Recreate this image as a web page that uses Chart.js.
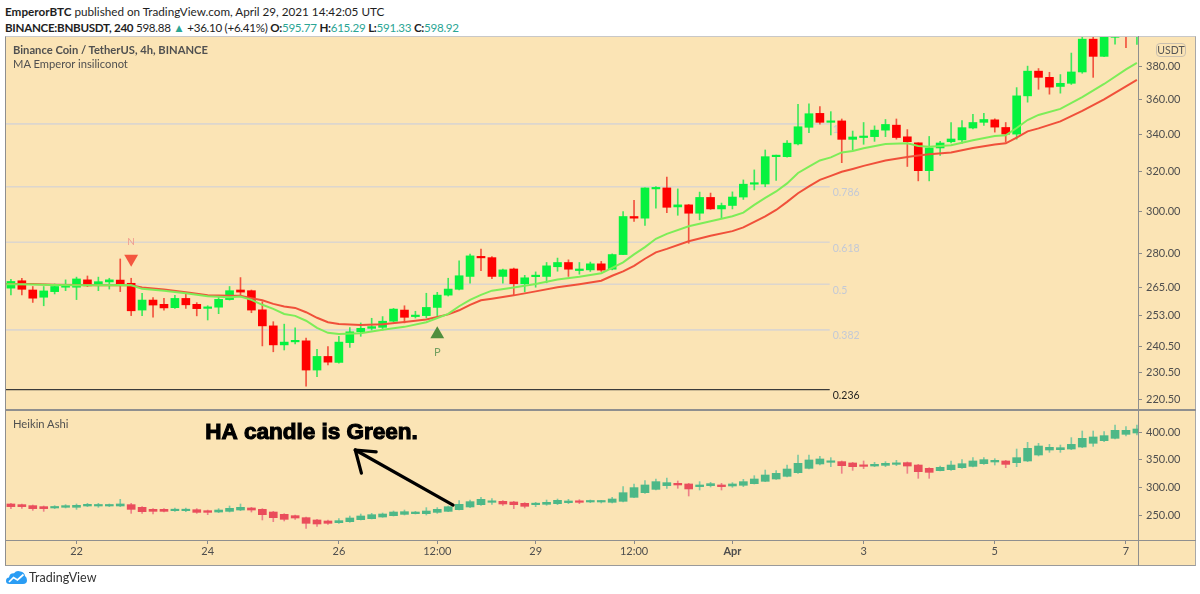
<!DOCTYPE html>
<html>
<head>
<meta charset="utf-8">
<script src="https://cdn.jsdelivr.net/npm/chart.js@4.4.1/dist/chart.umd.min.js"></script>
<style>
html,body{margin:0;padding:0;background:#fff;width:1200px;height:594px;overflow:hidden;font-family:Lato,'Liberation Sans',sans-serif;}
.abs{position:absolute;white-space:nowrap;}
#h1{left:5px;top:4px;font-size:11.7px;line-height:15px;color:#1e1e1e;}
#h2{left:5px;top:20px;font-size:11.6px;line-height:15px;letter-spacing:-0.28px;color:#1e1e1e;}
.t{color:#2aa594;}
#panel{left:5px;top:36px;width:1191px;height:530px;box-sizing:border-box;background:#FBE4B5;border-left:1px solid #8f8f8f;border-right:1px solid #a8a8a8;border-top:1px solid #c8c8c8;border-bottom:1px solid #9a9a9a;}
canvas{position:absolute;}
#cA{left:5px;top:36px;}
#cB{left:5px;top:409px;}
.lbl{font-size:11.2px;line-height:14px;color:#505050;}
#usdt{left:1156px;top:43px;width:30px;height:14px;box-sizing:border-box;border:1px solid #c9bfae;border-radius:4px;font-size:10.5px;line-height:12px;text-align:center;color:#555;}
.ln{background:#8f8f8f;}
#logo{left:6px;top:570px;display:flex;align-items:center;}
#logo span{font-size:12.5px;color:#333;margin-left:2px;}
</style>
</head>
<body>
<div id="h1" class="abs"><b>EmperorBTC</b> published on TradingView.com, April 29, 2021 14:42:05 UTC</div>
<div id="h2" class="abs"><b>BINANCE:BNBUSDT, 240</b> 598.88 <span class="t">▲</span> +36.10 (+6.41%) <b>O:</b><span class="t">595.77</span> <b>H:</b><span class="t">615.29</span> <b>L:</b><span class="t">591.33</span> <b>C:</b><span class="t">598.92</span></div>
<div id="panel" class="abs"></div>
<canvas id="cA" width="1190" height="373"></canvas>
<canvas id="cB" width="1190" height="157"></canvas>
<div class="abs ln" style="left:5px;top:409px;width:1191px;height:2px;"></div>
<div class="abs ln" style="left:5px;top:540px;width:1191px;height:1px;"></div>
<div class="abs ln" style="left:1138px;top:36px;width:1px;height:530px;"></div>
<div class="abs lbl" style="left:13px;top:43px;font-weight:bold;">Binance Coin / TetherUS, 4h, BINANCE</div>
<div class="abs lbl" style="left:13px;top:57px;">MA Emperor insiliconot</div>
<div class="abs lbl" style="left:13px;top:417px;">Heikin Ashi</div>
<div id="usdt" class="abs">USDT</div>
<div id="logo" class="abs">
<svg width="21" height="15" viewBox="0 0 21 15"><path d="M3.5 14 Q0 14 0 11 Q0 8 3 7.6 Q3.5 3 8 3.2 Q10.5 0 14.5 1.5 Q18.5 2 19 6 Q21 7.5 21 10.2 Q21 14 17 14 Z" fill="#2a9df4"/><polyline points="3,12 7.5,7.5 11.5,10 17.5,4.5" fill="none" stroke="#fff" stroke-width="1.7"/></svg>
<span>TradingView</span></div>

<script>
// ---------- DATA ----------
// main candles (Binance Coin / TetherUS, 4h), index 0 = 21 Mar 00:00
const mOpen = [264.6,267.8,263.8,260.7,263.1,265.0,265.0,268.2,265.7,267.3,
  268.1,266.7,255.3,259.5,257.7,256.3,260.2,257.7,256.0,256.5,
  259.7,263.8,263.5,255.4,248.8,241.2,242.4,242.8,231.5,236.7,
  234.4,242.1,246.4,247.8,248.2,250.7,255.3,252.6,253.0,256.4,
  261.6,264.1,269.7,278.6,278.1,269.7,273.0,266.5,269.6,269.7,
  274.0,275.9,272.3,272.6,275.3,272.9,279.5,297.4,296.6,311.1,
  311.6,302.1,303.1,299.0,306.8,301.1,302.8,307.0,313.5,313.6,
  327.9,327.9,334.8,344.0,351.9,346.8,347.6,337.3,338.3,338.8,
  342.4,345.2,338.7,335.4,320.5,332.6,336.0,337.0,343.6,346.8,
  348.2,343.9,340.2,362.1,377.0,373.2,367.7,369.6,376.5,397.2,
  386.2,398.4,406.0,401.0];
const mHigh = [268.4,268.9,265.3,265.3,266.4,268.2,269.4,269.9,269.4,268.9,
  277.5,268.9,262.4,260.6,260.2,261.5,262.0,258.4,257.1,261.0,
  265.3,269.2,263.8,258.8,250.5,249.5,248.0,243.9,239.5,240.5,
  244.6,248.1,250.0,251.9,252.6,256.0,257.1,254.8,262.4,262.8,
  268.9,276.6,279.7,282.0,278.6,273.0,273.4,270.2,271.7,275.9,
  277.9,277.1,275.9,276.1,276.4,279.8,299.8,305.3,311.7,312.3,
  317.1,311.1,303.3,309.5,309.0,304.0,309.6,315.7,320.9,331.5,
  328.8,336.6,357.2,357.4,355.8,352.9,348.7,341.9,346.7,344.8,
  348.4,348.7,342.7,335.4,338.9,336.2,346.7,347.8,351.3,351.9,
  348.8,346.7,367.0,380.1,378.6,376.3,374.9,388.3,399.5,400.5,
  401.0,402.0,410.0,412.0];
const mLow = [261.7,261.7,258.5,257.1,262.1,263.5,259.7,265.3,263.5,264.2,
  263.1,253.0,253.0,252.4,255.3,256.0,256.0,252.9,251.2,253.8,
  259.5,261.0,254.2,240.8,238.5,239.2,241.6,225.5,229.0,233.4,
  234.1,240.2,244.6,247.1,247.1,250.4,250.0,252.0,252.0,253.0,
  261.2,263.8,266.8,272.3,268.7,266.8,261.4,263.0,265.0,266.9,
  272.0,269.7,270.7,271.9,271.9,272.6,279.4,295.0,293.1,301.5,
  299.3,298.0,284.7,295.8,300.9,296.4,301.1,305.8,310.6,312.2,
  315.4,327.6,334.2,341.0,345.7,339.7,324.7,331.5,334.6,336.2,
  338.8,337.4,322.7,315.2,315.2,328.6,335.4,335.0,343.1,345.0,
  341.3,335.9,337.4,358.4,366.0,363.1,363.7,368.9,375.7,373.2,
  386.0,394.0,391.7,393.8];
const mClose = [267.5,264.1,260.3,263.4,265.3,265.4,268.6,265.6,267.4,268.2,
  266.0,255.0,259.5,257.4,256.2,260.2,257.5,255.9,256.6,259.8,
  263.5,262.9,255.3,248.8,241.2,242.3,242.9,231.5,236.7,234.5,
  242.3,246.4,247.8,248.5,250.7,255.7,252.3,253.2,256.4,261.6,
  264.2,270.0,278.9,278.0,269.7,272.6,266.5,269.1,270.0,274.4,
  275.9,272.9,273.0,275.3,272.5,279.5,297.4,296.6,311.6,311.6,
  301.9,303.1,299.0,306.8,301.1,302.8,307.0,313.5,314.1,327.9,
  328.3,335.2,344.3,351.7,346.8,347.6,337.3,338.6,338.9,342.4,
  345.6,338.3,336.0,320.5,332.6,335.3,337.5,343.8,346.7,348.4,
  344.1,340.2,362.1,377.0,373.2,367.3,369.6,376.5,397.2,386.2,
  398.5,399.0,401.0,405.0];

// Heikin Ashi pane
const haOpen = [270.1,268.9,267.1,265.3,262.9,264.1,264.1,266.5,266.5,266.5,
  266.5,268.9,264.1,260.4,260.4,258.0,258.0,259.8,258.0,255.6,
  256.8,259.2,262.9,260.4,255.6,251.4,249.0,245.4,241.2,239.4,
  236.4,238.2,241.8,243.6,246.6,249.0,251.4,252.6,252.6,255.0,
  256.8,259.8,264.7,268.9,273.1,274.9,273.7,271.3,268.9,269.5,
  270.7,272.5,275.5,273.7,273.7,273.1,274.9,282.1,290.5,296.5,
  303.2,307.4,306.2,301.4,303.2,304.4,302.6,303.8,306.7,311.0,
  315.2,320.0,326.6,334.4,342.3,345.3,346.5,344.1,339.8,338.6,
  339.8,341.6,344.7,340.4,334.4,330.2,332.0,335.6,338.0,342.8,
  345.9,347.7,344.7,347.7,358.5,367.5,368.1,369.3,372.9,379.6,
  384.4,388.6,395.8,398.2];
const haHigh = [271.3,270.1,268.3,266.5,267.1,268.9,270.1,271.3,271.3,270.1,
  278.5,271.3,265.3,261.7,261.7,262.9,262.9,261.7,259.2,261.7,
  266.5,270.1,264.1,261.7,256.8,252.6,250.2,246.6,242.4,241.2,
  243.6,248.4,252.0,253.2,253.8,257.4,259.2,256.8,263.5,263.5,
  266.5,276.1,277.3,282.1,279.7,276.1,274.9,272.5,273.1,277.3,
  279.1,278.5,277.9,277.3,276.7,282.1,301.4,306.2,312.2,315.2,
  317.0,311.6,307.4,310.4,309.2,307.4,308.6,314.6,321.2,331.4,
  330.2,340.4,358.5,358.5,356.1,353.7,347.7,345.3,347.7,345.3,
  346.5,348.9,345.9,341.6,335.6,338.6,347.7,350.1,353.7,353.7,
  351.9,348.9,369.3,381.4,379.6,377.7,376.5,389.8,401.8,401.8,
  400.6,412.6,409.6,412.6];
const haLow = [261.7,262.3,258.6,256.8,261.7,262.9,260.4,265.3,264.1,265.3,
  265.3,253.2,253.2,252.0,255.6,256.8,256.2,253.2,250.8,254.4,
  255.6,258.0,255.6,241.2,238.2,239.4,242.4,226.2,229.8,233.4,
  235.2,237.0,241.2,243.0,246.0,248.4,250.2,252.0,250.2,253.2,
  256.2,259.2,263.5,267.7,269.5,267.7,261.7,262.9,265.3,267.7,
  268.9,270.7,270.7,272.5,271.9,271.9,273.7,281.5,289.3,295.3,
  298.4,298.4,284.5,295.3,300.8,295.3,300.2,301.4,306.1,310.4,
  314.6,318.8,325.4,333.2,340.4,337.4,325.4,330.8,333.8,337.4,
  337.4,339.2,325.4,316.4,316.4,329.6,330.8,334.4,336.8,341.6,
  340.4,335.6,337.4,346.5,356.7,363.3,363.3,368.1,371.7,374.1,
  382.6,387.4,392.8,394.6];
const haClose = [265.3,265.3,261.7,261.7,265.3,267.1,267.7,269.5,268.9,268.9,
  270.1,260.4,256.2,256.8,256.8,260.4,260.4,255.0,255.0,259.2,
  262.3,264.1,259.2,250.8,245.4,242.4,244.8,235.2,234.0,235.2,
  240.0,244.8,248.4,250.8,252.0,255.6,256.2,255.6,257.4,260.4,
  265.2,269.5,274.3,278.5,274.9,270.1,268.9,265.9,270.7,273.1,
  276.7,275.5,273.1,276.1,275.5,279.1,290.5,299.6,304.4,310.4,
  308.6,304.4,297.2,304.4,306.8,301.4,306.2,310.4,315.2,322.4,
  325.4,333.2,343.5,349.5,351.3,347.7,339.2,337.4,338.0,341.7,
  343.5,344.1,338.6,328.4,327.2,336.2,340.4,342.8,347.7,350.1,
  348.9,341.6,353.7,370.5,374.7,372.3,371.7,377.7,388.6,391.0,
  393.4,403.0,403.0,405.4];

// MA Emperor lines (read at these candle positions)
const maIdx = [-0.45,0,2,4,6,8,10,11,12,14,16,18,20,21,22,23,24,25,26,27,28,29,30,32,34,36,38,40,41,42,43,44,46,48,50,52,54,55,56,57,58,59,60,62,64,66,67,68,69,70,71,72,73,74,75,76,77,78,80,82,83,84,86,88,90,91,92,93,94,96,98,100,102,103];
const maGreen = [266.3,266.3,266.2,266.0,265.9,265.8,266.0,265.8,264.3,263.5,
  262.4,261.1,260.7,261.0,259.6,257.5,255.8,253.7,252.9,250.9,
  248.0,246.0,245.5,245.8,247.2,248.4,250.3,253.7,256.9,259.6,
  261.7,263.5,264.9,266.4,268.4,269.6,271.1,273.5,276.0,279.6,
  282.9,286.8,289.1,292.7,295.1,297.5,299.3,303.1,306.6,309.8,
  313.9,319.3,322.6,325.9,327.5,330.2,331.0,332.4,334.8,335.2,
  333.7,333.3,334.1,336.8,339.1,339.5,343.6,348.1,351.0,354.5,
  361.4,369.2,378.1,382.1];
const maRed = [266.4,266.4,266.4,266.1,266.0,265.9,266.0,265.9,264.9,264.0,
  262.8,261.6,261.3,261.3,260.3,259.4,257.9,256.8,256.2,254.4,
  252.1,250.3,249.6,249.2,249.5,250.4,251.4,253.5,255.2,257.5,
  259.4,260.1,261.5,263.2,265.0,266.3,267.8,270.0,271.9,274.4,
  277.6,280.5,282.1,285.6,288.2,290.4,292.2,294.8,297.5,300.6,
  304.6,308.9,312.4,315.7,317.8,319.9,321.4,323.0,325.9,327.7,
  328.5,329.2,330.1,332.6,334.5,335.1,338.3,341.7,343.4,347.3,
  353.3,360.0,367.8,371.6];

// Fibonacci levels
const fibLevels = ['1','0.786','0.618','0.5','0.382','0.236'];
const fibPrices = [345.9,312.2,285.2,266.3,247.2,224.2];
const fibEnd = 74.9;

// signal markers
const sigLabels = ['N','P'];
const sigIdx = [11,39];
const sigPrice = [277.6,245.4];
const sigTextPrice = [285.3,238.2];

// axes
const priceTicks = [220.5,230.5,240.5,253,265,280,300,320,340,360,380];
const haTicks = [250,300,350,400];
const timeTickIdx = [6,18,30,39,48,57,66,78,90,102];
const timeTickLabels = ['22','24','26','12:00','29','12:00','Apr','3','5','7'];

// annotation on Heikin Ashi pane
const annText = 'HA candle is Green.';
const annTextPos = [27.5,398.2];
const arrowTail = [40.45,268.2];
const arrowTip = [31.5,367.5];

// ---------- CHARTS ----------
[mHigh,mLow,mClose,haOpen,haHigh,haLow,haClose].forEach(a=>{ if(a.length!==mOpen.length) throw new Error('length mismatch '+a.length); });
if (maGreen.length!==maIdx.length || maRed.length!==maIdx.length) throw new Error('ma length mismatch');

Chart.defaults.font.family = "Lato, 'Liberation Sans', sans-serif";
const X_MIN = -0.45, X_MAX = 103.1;
const idx = mOpen.map((_, k) => k);

function candleSets(O, H, L, C, upBody, dnBody, upWick, dnWick) {
  const up = C.map((c, k) => c >= O[k]);
  return [
    { type:'bar', data: idx.map(k => ({x:k, y:[L[k], H[k]]})), backgroundColor: up.map(u => u ? upWick : dnWick),
      barThickness:1, maxBarThickness:1, grouped:false, minBarLength:1, borderWidth:0, order:5 },
    { type:'bar', data: idx.map(k => ({x:k, y:[O[k], C[k]]})), backgroundColor: up.map(u => u ? upBody : dnBody),
      barThickness:8, maxBarThickness:8, grouped:false, minBarLength:1.5, borderWidth:0, order:4 }
  ];
}

function zeroPad(s) { s.paddingTop = 0; s.paddingBottom = 0; s.paddingLeft = 0; s.paddingRight = 0; }

const overlayA = {
  id:'overlayA',
  beforeDatasetsDraw(chart) {
    const {ctx, scales:{x, y}} = chart;
    ctx.save();
    ctx.font = "10.5px Lato, 'Liberation Sans', sans-serif";
    ctx.textBaseline = 'middle';
    ctx.textAlign = 'left';
    fibPrices.forEach((p, k) => {
      const py = y.getPixelForValue(p);
      const px = x.getPixelForValue(fibEnd) + 3;
      ctx.fillStyle = fibLevels[k] === '0.236' ? '#1e1e1e' : '#c3c9d6';
      ctx.fillText(fibLevels[k], px, py + 6);
    });
    ctx.restore();
  },
  afterDatasetsDraw(chart) {
    const {ctx, scales:{x, y}} = chart;
    ctx.save();
    ctx.textAlign = 'center';
    ctx.textBaseline = 'middle';
    sigLabels.forEach((t, k) => {
      ctx.font = t === 'N' ? "10px Lato, sans-serif" : "11px Lato, sans-serif";
      ctx.fillStyle = t === 'N' ? '#f09c8f' : '#74a060';
      ctx.fillText(t, x.getPixelForValue(sigIdx[k]), y.getPixelForValue(sigTextPrice[k]));
    });
    ctx.restore();
  }
};

const fibSets = fibPrices.map((p, k) => ({
  type:'line', data:[{x:X_MIN, y:p}, {x:fibEnd, y:p}],
  borderColor: fibLevels[k] === '0.236' ? '#3a3a3a' : 'rgba(206,208,216,0.7)',
  borderWidth: fibLevels[k] === '0.236' ? 1.3 : 1.6, pointRadius:0, order:10
}));

new Chart(document.getElementById('cA'), {
  type:'bar',
  data:{ datasets:[
    ...fibSets,
    ...candleSets(mOpen, mHigh, mLow, mClose, '#06f23f', '#ff0000', '#3fe85c', '#f2533f'),
    { type:'line', data: maIdx.map((v, k) => ({x:v, y:maGreen[k]})), borderColor:'#7ded58', borderWidth:2, pointRadius:0, tension:0, order:2 },
    { type:'line', data: maIdx.map((v, k) => ({x:v, y:maRed[k]})), borderColor:'#f0503a', borderWidth:2, pointRadius:0, tension:0, order:2 },
    { type:'line', showLine:false, data:[{x:sigIdx[0], y:sigPrice[0]}], pointStyle:'triangle', pointRadius:8, pointRotation:180,
      pointBackgroundColor:'#f4563f', pointBorderWidth:0, order:1 },
    { type:'line', showLine:false, data:[{x:sigIdx[1], y:sigPrice[1]}], pointStyle:'triangle', pointRadius:8, pointRotation:0,
      pointBackgroundColor:'#4f8f3e', pointBorderWidth:0, order:1 }
  ]},
  options:{
    responsive:false, animation:false, events:[],
    layout:{ autoPadding:false, padding:{ left:1, top:1, bottom:1, right:0 } },
    plugins:{ legend:{display:false}, tooltip:{enabled:false} },
    scales:{
      x:{ type:'linear', min:X_MIN, max:X_MAX, offset:false, display:false, grid:{offset:false} },
      y:{ type:'logarithmic', position:'right', min:217.6, max:398.6, beginAtZero:false,
          afterBuildTicks: s => { s.ticks = priceTicks.map(v => ({value:v})); },
          afterFit: s => { s.width = 57; zeroPad(s); },
          ticks:{ autoSkip:false, callback: v => Number(v).toFixed(2), color:'#4e4e4e', font:{size:11}, padding:4 },
          grid:{ drawOnChartArea:false, drawTicks:true, tickLength:4, color:'#8a8a8a' },
          border:{ display:true, color:'#8a8a8a' } }
    }
  },
  plugins:[overlayA]
});

const overlayB = {
  id:'overlayB',
  afterDatasetsDraw(chart) {
    const {ctx, scales:{x, y}} = chart;
    ctx.save();
    const tx = x.getPixelForValue(annTextPos[0]), ty = y.getPixelForValue(annTextPos[1]);
    ctx.font = "bold 22.5px 'Liberation Sans', Arial, sans-serif";
    ctx.textAlign = 'center'; ctx.textBaseline = 'middle';
    ctx.fillStyle = '#000'; ctx.strokeStyle = '#000'; ctx.lineWidth = 1.1;
    ctx.fillText(annText, tx, ty);
    ctx.strokeText(annText, tx, ty);
    const x0 = x.getPixelForValue(arrowTail[0]), y0 = y.getPixelForValue(arrowTail[1]);
    const x1 = x.getPixelForValue(arrowTip[0]), y1 = y.getPixelForValue(arrowTip[1]);
    ctx.lineWidth = 3.2; ctx.lineCap = 'round'; ctx.lineJoin = 'round';
    ctx.beginPath(); ctx.moveTo(x0, y0); ctx.lineTo(x1, y1); ctx.stroke();
    const ang = Math.atan2(y0 - y1, x0 - x1);
    [[-0.42, 21], [0.8, 24]].forEach(([d, len]) => {
      ctx.beginPath(); ctx.moveTo(x1, y1);
      ctx.lineTo(x1 + len * Math.cos(ang + d), y1 + len * Math.sin(ang + d));
      ctx.stroke();
    });
    ctx.restore();
  }
};

new Chart(document.getElementById('cB'), {
  type:'bar',
  data:{ datasets: candleSets(haOpen, haHigh, haLow, haClose, '#4db887', '#ea4d5b', '#7fcaa2', '#ee8089') },
  options:{
    responsive:false, animation:false, events:[],
    layout:{ autoPadding:false, padding:{ left:1, top:2, bottom:1, right:0 } },
    plugins:{ legend:{display:false}, tooltip:{enabled:false} },
    scales:{
      x:{ type:'linear', position:'bottom', min:X_MIN, max:X_MAX, offset:false,
          afterBuildTicks: s => { s.ticks = timeTickIdx.map(v => ({value:v})); },
          afterFit: s => { s.height = 25; zeroPad(s); },
          ticks:{ autoSkip:false, maxRotation:0, padding:1, color:'#4e4e4e',
                  callback: v => timeTickLabels[timeTickIdx.indexOf(v)],
                  font: c => ({ size:11, weight: (c.tick && c.tick.value === 66) ? 'bold' : 'normal' }) },
          grid:{ drawOnChartArea:false, drawTicks:true, tickLength:4, color:'#8a8a8a', offset:false },
          border:{ display:true, color:'#8a8a8a' } },
      y:{ type:'linear', position:'right', min:205.1, max:437.9, beginAtZero:false,
          afterBuildTicks: s => { s.ticks = haTicks.map(v => ({value:v})); },
          afterFit: s => { s.width = 57; zeroPad(s); },
          ticks:{ autoSkip:false, callback: v => Number(v).toFixed(2), color:'#4e4e4e', font:{size:11}, padding:4 },
          grid:{ drawOnChartArea:false, drawTicks:true, tickLength:4, color:'#8a8a8a' },
          border:{ display:true, color:'#8a8a8a' } }
    }
  },
  plugins:[overlayB]
});
</script>
</body>
</html>
